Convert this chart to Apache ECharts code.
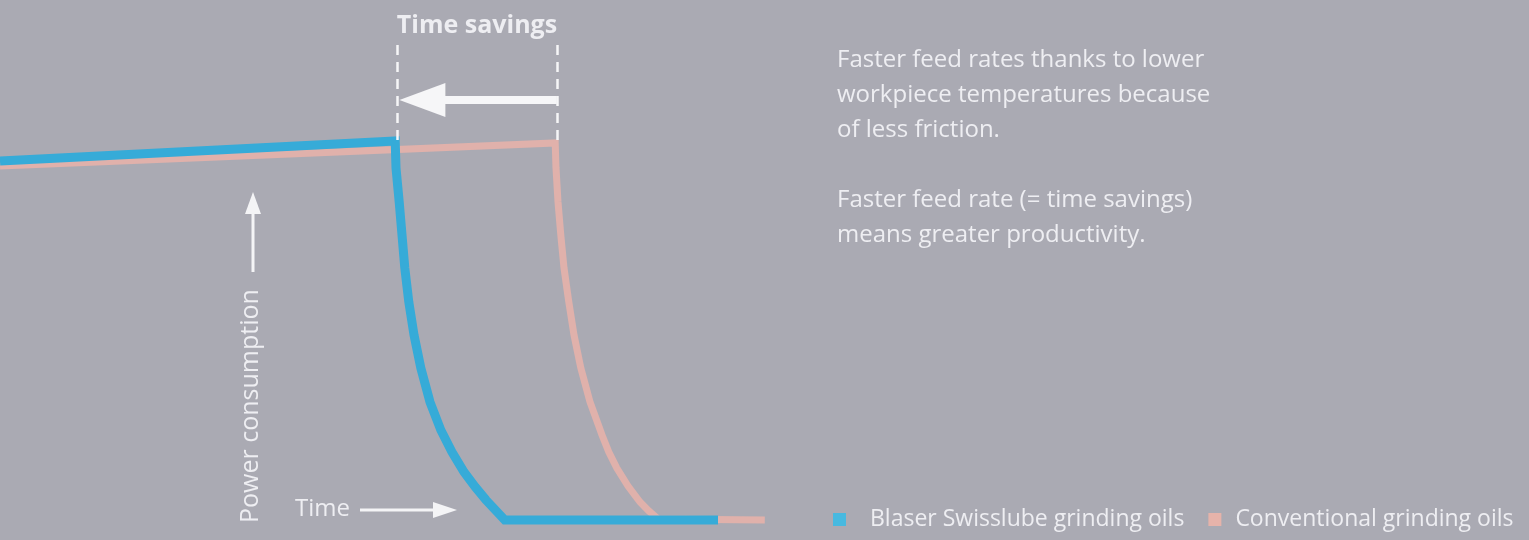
<!DOCTYPE html>
<html>
<head>
<meta charset="utf-8">
<script src="https://cdn.jsdelivr.net/npm/echarts@6/dist/echarts.min.js"></script>
<style>
  html, body { margin: 0; padding: 0; background: #aaaab3; }
  #chart { width: 1529px; height: 540px; }
</style>
</head>
<body>
<div id="chart"></div>
<script>
// time (x) and power (y), arbitrary units
const blaserTime = [0, 49.4, 49.5, 49.9, 50.25, 50.6, 51.1, 51.75, 52.6, 53.75, 55.1, 56.5, 58, 59.4, 60.75, 63.1, 89.75];
const blaserPower = [89.75, 94.75, 88, 79.5, 71.25, 63, 54.5, 46.25, 38, 29.5, 22.5, 17, 12, 8.25, 5, 0, 0];
const convTime = [0, 69.4, 69.5, 69.75, 70.1, 70.5, 71.1, 71.75, 72.6, 73.75, 75.25, 76.1, 77.1, 78.5, 80, 81.1, 82.25, 95.6];
const convPower = [88.5, 94.25, 88, 79.5, 71.25, 63, 54.5, 46.25, 38, 29.5, 21.25, 17, 13, 8.5, 4.5, 2.25, 0.25, 0];

// time savings bracket
const savingsFrom = 69.6;
const savingsTo = 49.6;
const bracketLow = 95;
const bracketHigh = 118.75;
const arrowLevel = 105;

const seriesNames = ["Blaser Swisslube grinding oils", "Conventional grinding oils"];

const FONT = "'Open Sans', 'Noto Sans', sans-serif";
const TEXT = "#eeeef2";

const zip = (xs, ys) => xs.map((x, i) => [x, ys[i]]);

const chart = echarts.init(document.getElementById("chart"));

chart.setOption({
  animation: false,
  backgroundColor: "#aaaab3",
  title: [
    {
      text: "Time savings",
      left: 477,
      top: 13,
      padding: 0,
      textAlign: "center",
      textStyle: { color: TEXT, fontSize: 25, fontWeight: "bold", fontFamily: FONT },
    },
    {
      text: "Faster feed rates thanks to lower\nworkpiece temperatures because\nof less friction.\n\nFaster feed rate (= time savings)\nmeans greater productivity.",
      left: 837,
      top: 43,
      padding: 0,
      textStyle: { color: TEXT, fontSize: 24, fontWeight: "normal", lineHeight: 35, fontFamily: FONT },
    },
  ],
  legend: {
    left: 833,
    top: 508,
    padding: 0,
    icon: "rect",
    itemWidth: 13,
    itemHeight: 13,
    itemGap: 24,
    data: [
      { name: seriesNames[0], textStyle: { padding: [6, 0, 0, 19] } },
      { name: seriesNames[1], textStyle: { padding: [6, 0, 0, 9] } },
    ],
    textStyle: { color: TEXT, fontSize: 23, fontFamily: FONT },
  },
  grid: { left: 0, right: 729, top: 40, bottom: 20 },
  xAxis: { type: "value", min: 0, max: 100, show: false },
  yAxis: { type: "value", min: 0, max: 120, show: false },
  graphic: [
    {
      type: "text",
      x: 251,
      y: 523,
      rotation: Math.PI / 2,
      style: { text: "Power consumption", fill: TEXT, font: "25px " + FONT, textAlign: "left", textVerticalAlign: "middle" },
    },
    { type: "line", shape: { x1: 253, y1: 272, x2: 253, y2: 210 }, style: { stroke: "#f4f4f6", lineWidth: 3 } },
    { type: "polygon", shape: { points: [[253, 192], [245, 214], [261, 214]] }, style: { fill: "#f4f4f6" } },
    {
      type: "text",
      x: 295,
      y: 509,
      style: { text: "Time", fill: TEXT, font: "24px " + FONT, textAlign: "left", textVerticalAlign: "middle" },
    },
    { type: "line", shape: { x1: 360, y1: 510, x2: 437, y2: 510 }, style: { stroke: "#f4f4f6", lineWidth: 3 } },
    { type: "polygon", shape: { points: [[433, 502], [457, 510], [433, 518]] }, style: { fill: "#f4f4f6" } },
  ],
  series: [
    {
      name: seriesNames[1],
      type: "line",
      data: zip(convTime, convPower),
      showSymbol: false,
      clip: false,
      itemStyle: { color: "#e6b3aa" },
      lineStyle: { color: "#e0b1ab", width: 7, join: "miter" },
      markLine: {
        silent: true,
        symbol: "none",
        label: { show: false },
        data: [
          [
            { coord: [savingsTo, bracketLow], lineStyle: { color: "#f6f6f8", width: 2.5, type: [10, 7] } },
            { coord: [savingsTo, bracketHigh] },
          ],
          [
            { coord: [savingsFrom, bracketLow], lineStyle: { color: "#f6f6f8", width: 2.5, type: [10, 7] } },
            { coord: [savingsFrom, bracketHigh] },
          ],
          [
            { coord: [savingsFrom, arrowLevel], symbol: "none", lineStyle: { color: "#f6f6f8", width: 8, type: "solid" } },
            { coord: [savingsTo + 3.2, arrowLevel], symbol: "triangle", symbolSize: [34, 46], itemStyle: { color: "#f6f6f8" } },
          ],
        ],
      },
    },
    {
      name: seriesNames[0],
      type: "line",
      data: zip(blaserTime, blaserPower),
      showSymbol: false,
      clip: false,
      itemStyle: { color: "#47b9e0" },
      lineStyle: { color: "#36abd8", width: 9, join: "miter" },
    },
  ],
});
</script>
</body>
</html>
